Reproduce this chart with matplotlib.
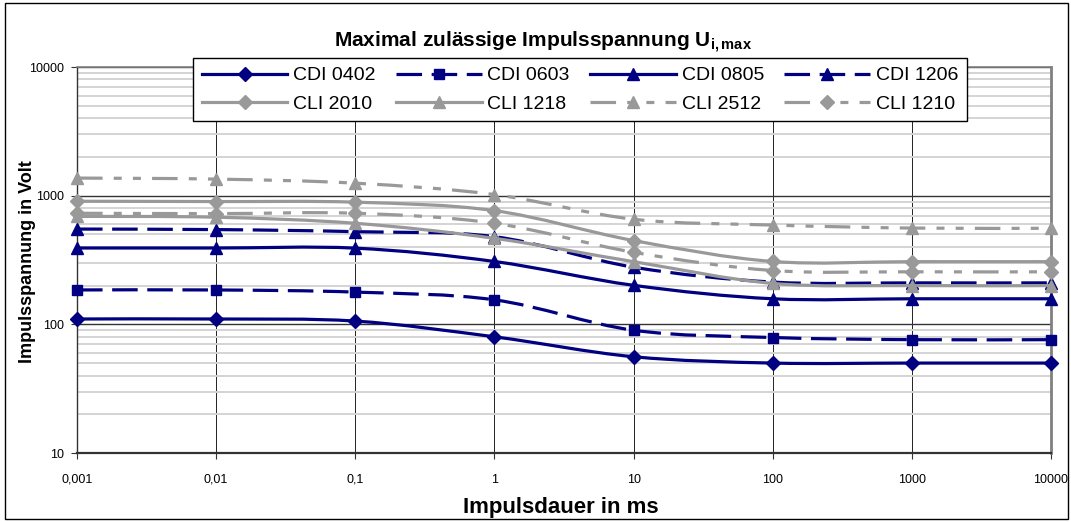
import numpy as np
import matplotlib
matplotlib.use("Agg")
import matplotlib.pyplot as plt
from matplotlib.path import Path
from matplotlib.patches import PathPatch, Rectangle
from matplotlib.lines import Line2D
from matplotlib.ticker import FixedLocator, FixedFormatter, LogLocator, NullFormatter

plt.rcParams['font.family'] = ['Liberation Sans', 'DejaVu Sans']
plt.rcParams['mathtext.fontset'] = 'custom'
plt.rcParams['mathtext.rm'] = 'Liberation Sans'
plt.rcParams['mathtext.bf'] = 'Liberation Sans:bold'

# impulse duration (ms) and max. impulse voltage (V)
x_ms = [0.001, 0.01, 0.1, 1, 10, 100, 1000, 10000]
x_labels = ['0,001', '0,01', '0,1', '1', '10', '100', '1000', '10000']

cdi_0402 = [110, 110, 106, 80, 56, 50, 50, 50]
cdi_0603 = [185, 185, 178, 155, 90, 79, 76, 76]
cdi_0805 = [392, 392, 391, 308, 201, 158, 158, 158]
cdi_1206 = [550, 545, 525, 480, 278, 213, 210, 210]
cli_2010 = [905, 900, 890, 765, 448, 308, 307, 307]
cli_1218 = [690, 680, 610, 466, 307, 208, 200, 200]
cli_2512 = [1370, 1345, 1250, 1020, 656, 591, 560, 558]
cli_1210 = [730, 725, 730, 610, 363, 262, 256, 256]

y_ticks = [10, 100, 1000, 10000]

navy = '#000080'
grey = '#999999'
long_dash = (0, (8, 3))
dash_dot_dot = (0, (8, 3.5, 2.5, 3.5, 2.5, 3.5))

series = [
    ('CDI 0402', cdi_0402, navy, '-', 'D', 7.0),
    ('CDI 0603', cdi_0603, navy, long_dash, 's', 7.0),
    ('CDI 0805', cdi_0805, navy, '-', '^', 8.5),
    ('CDI 1206', cdi_1206, navy, long_dash, '^', 8.5),
    ('CLI 2010', cli_2010, grey, '-', 'D', 7.5),
    ('CLI 1218', cli_1218, grey, '-', '^', 9.0),
    ('CLI 2512', cli_2512, grey, dash_dot_dot, '^', 9.0),
    ('CLI 1210', cli_1210, grey, dash_dot_dot, 'D', 7.5),
]


def smooth_path(xs, ys):
    # Excel-like smoothed line: cubic Bezier in log-log space
    lx = np.log10(xs)
    ly = np.log10(ys)
    n = len(lx)
    verts = [(lx[0], ly[0])]
    codes = [Path.MOVETO]
    for i in range(n - 1):
        i0 = max(i - 1, 0)
        i3 = min(i + 2, n - 1)
        c1 = (lx[i] + (lx[i + 1] - lx[i0]) / 6, ly[i] + (ly[i + 1] - ly[i0]) / 6)
        c2 = (lx[i + 1] - (lx[i3] - lx[i]) / 6, ly[i + 1] - (ly[i3] - ly[i]) / 6)
        verts += [c1, c2, (lx[i + 1], ly[i + 1])]
        codes += [Path.CURVE4] * 3
    verts = 10 ** np.array(verts)
    return Path(verts, codes)


fig = plt.figure(figsize=(10.71, 5.22), dpi=100)
ax = fig.add_axes([77 / 1071, 1 - 453 / 522, (1051 - 77) / 1071, (453 - 67) / 522])

ax.set_xscale('log')
ax.set_yscale('log')
ax.set_xlim(x_ms[0], x_ms[-1])
ax.set_ylim(y_ticks[0], y_ticks[-1])

ax.xaxis.set_major_locator(FixedLocator(x_ms))
ax.xaxis.set_major_formatter(FixedFormatter(x_labels))
ax.xaxis.set_minor_locator(FixedLocator([]))
ax.yaxis.set_major_locator(FixedLocator(y_ticks))
ax.yaxis.set_major_formatter(FixedFormatter([str(v) for v in y_ticks]))
ax.yaxis.set_minor_locator(LogLocator(base=10, subs=np.arange(2, 10)))
ax.yaxis.set_minor_formatter(NullFormatter())

ax.grid(axis='y', which='minor', color='#d4d4d4', lw=1.4)
ax.grid(axis='y', which='major', color='#333333', lw=1.0)
ax.grid(axis='x', which='major', color='#222222', lw=0.7)
ax.set_axisbelow(True)

ax.tick_params(axis='both', which='major', direction='out', length=4, width=0.8,
               labelsize=9, pad=5, color='#333333')
ax.tick_params(axis='y', which='minor', length=0)
ax.tick_params(axis='x', pad=11)

for side in ['left', 'bottom']:
    ax.spines[side].set_color('#333333')
ax.spines['left'].set_linewidth(1.0)
ax.spines['bottom'].set_linewidth(1.6)
ax.spines['top'].set_color('#808080')
ax.spines['top'].set_linewidth(1.2)
ax.spines['right'].set_color('#808080')
ax.spines['right'].set_linewidth(2.0)

handles = []
for k, (name, vals, col, ls, mk, ms) in enumerate(series):
    z = 3 + k
    ax.add_patch(PathPatch(smooth_path(x_ms, vals), fill=False, edgecolor=col,
                           lw=2.3, linestyle=ls, zorder=z, capstyle='butt'))
    ax.plot(x_ms, vals, linestyle='none', marker=mk, ms=ms, color=col,
            markeredgecolor=col, zorder=z, clip_on=False)
    handles.append(Line2D([], [], color=col, lw=2.3, linestyle=ls, marker=mk,
                          ms=ms, markeredgecolor=col))

# legend: row 1 = CDI, row 2 = CLI (matplotlib fills column-wise)
order = [0, 4, 1, 5, 2, 6, 3, 7]
leg = fig.legend([handles[i] for i in order], [series[i][0] for i in order],
                 ncol=4, loc='upper left', bbox_to_anchor=(193 / 1071, 1 - 58 / 522),
                 bbox_transform=fig.transFigure, fontsize=14, handlelength=4.4,
                 handletextpad=0.3, columnspacing=1.05, borderpad=0.45,
                 labelspacing=0.55, fancybox=False, framealpha=1, borderaxespad=0)
leg.get_frame().set_edgecolor('black')
leg.get_frame().set_linewidth(1.0)
leg.set_zorder(20)

fig.text(543 / 1071, 1 - 42 / 522,
         r'Maximal zulässige Impulsspannung $\mathbf{U_{i,max}}$',
         ha='center', va='center', fontsize=15, fontweight='bold')
fig.text(28 / 1071, 1 - 262 / 522, 'Impulsspannung in Volt', rotation=90,
         ha='center', va='center', fontsize=13, fontweight='bold')
fig.text(561 / 1071, 1 - 507 / 522, 'Impulsdauer in ms',
         ha='center', va='center', fontsize=16, fontweight='bold')

fig.patches.append(Rectangle((5 / 1071, 3 / 522), 1063 / 1071, 516 / 522,
                             transform=fig.transFigure, fill=False,
                             edgecolor='black', lw=1.0))

fig.savefig('out.png', dpi=100)
